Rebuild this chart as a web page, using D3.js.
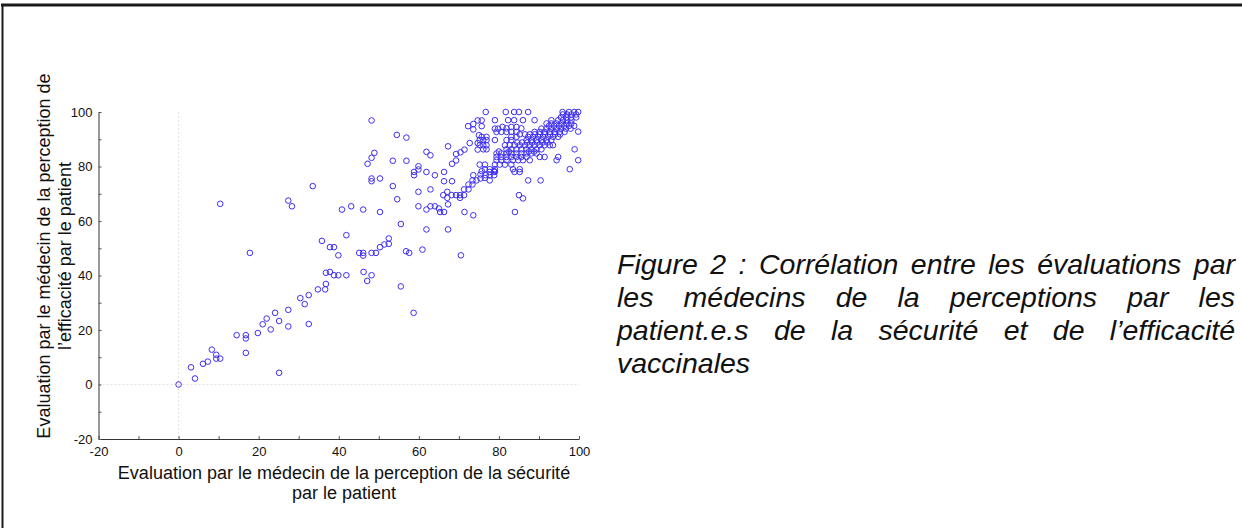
<!DOCTYPE html>
<html>
<head>
<meta charset="utf-8">
<script src="https://cdn.jsdelivr.net/npm/d3@7"></script>
<style>
  body { margin: 0; background: #fff; }
  svg { display: block; }
  text { font-family: "Liberation Sans", Arial, sans-serif; }
</style>
</head>
<body>
<div id="canvas"></div>
<script>
// [sécurité, efficacité]
var pointsBas = [
  [0,0],[3.1,6.3],[4.1,2.2],[6.1,7.6],[7.3,8.4],[8.3,12.8],[9.4,10.9],[9.4,9.5],[10.4,9.5],
  [14.5,18.1],[16.8,18.1],[16.8,16.9],[16.8,11.6],[19.8,18.9],[21,22.1],[22,24.2],[23,20.2],
  [24.1,26.3],[25.1,23.3],[25.1,4.3],[27.4,27.4],[27.4,21.3],[31.5,29.5],[32.5,22.2],
  [30.4,31.7],[32.5,32.8],[34.8,34.9],[36.6,34.9],[36.8,36.9],[36.8,41],[37.8,41.3],[38.8,40.1],
  [39.9,40.1],[41.9,40.1],[46.2,41.3],[47.1,38],[48.2,40.1],[55.5,36],[58.7,26.3]
];
var pointsMilieu = [
  [10.4,66.3],[17.8,48.3],[27.4,67.5],[28.3,65.4],[33.5,72.8],[40.8,64.2],[43.1,65.4],[46.1,64.2],
  [50.3,63.3],[41.9,54.8],[35.8,52.7],[37.8,50.4],[38.8,50.4],[39.9,47.4],[45.1,48.3],[46.1,48.3],
  [46.1,47.3],[48.2,48.3],[49.3,48.3],[50.3,50.4],[51.4,51.4],[52.5,51.6],[52.5,53.6],[56.8,48.9],
  [57.6,48.3],[60.9,49.5],[70.5,47.4],[55.5,58.9],[61.9,56.9],[67.3,56.9],
  [47.2,81],[48.2,83.2],[48.9,85],[48.2,96.9],[54.5,91.6],[56.9,90.6],[53.5,82.1],[56.9,82.1],
  [48.2,75.6],[48.2,74.6],[50.3,75.6],[53.5,72.8],[54.6,68],[59.9,70.7],[62.9,71.6],
  [59.9,80.1],[59.9,78.9],[58.8,78],[58.8,76.8],[61.9,78],[64,76.8],[66.3,78],[66.3,74.6],[68.3,74.6],
  [61.9,85.4],[62.9,84.1],[67.3,87.4],[68.3,81],[69.3,82.2],[69.3,84.6],[70.4,85.2],[71.4,86.2],[72.7,88.6],
  [59.9,65.4],[61.9,64.2],[62.9,65.4],[64,65.4],[65,64.6],[65.3,63.3],[66.3,63.3],[71.4,63.3],[73.6,62.1],
  [66.1,69.5],[67.1,70.7],[67.1,68.5],[67.3,66.1],[68.2,69.5],[69.3,69.5],[70.3,69.5],[70.3,68.5],
  [71.3,69.5],[71.3,71.6],[72.4,73.4],[72.4,71.6],[73.4,74.9],[73.4,73.4],[74.4,74.9],
  [84,63.3],[85,69.5],[86,68.3],[87.3,74.9],[90.4,74.9]
];
var pointsHaut = [
  [72.3,94.8],[73.6,95.6],[73.6,93.6],[74.7,96.9],[75.7,96.9],[75.7,94.8],[75,91.5],[74.7,88.6],[74.7,86.2],
  [76.7,100],[81.7,100],[83.8,100],[85,100],[87.3,100],
  [73.6,76.8],[75.4,75.6],[75.4,77.1],[76.5,75.8],[77.7,74.9],[75.7,78.3],[76.7,76.8],[77.7,76.8],
  [78.8,76.8],[78.8,78.3],
  [95.9,100],[97.5,100],[98.8,100],[99.8,100],
  [96,99.1],[97,99.1],[98.1,99.1],[99.3,99.1],
  [95.5,98],[96.8,98],[98,98],[99.3,98],
  [79,97],[82.3,97],[83.8,97],[86,97],[88.9,97],[93.1,97],[94.8,97],[96,97],[97,97],[98.1,97],
  [91.9,95.8],[93.1,95.8],[94.4,95.8],[95.6,95.8],[96.9,95.8],[98.1,95.8],
  [92.5,94.9],[93.8,94.9],[95,94.9],[96.3,94.9],[97.5,94.9],[98.8,94.9],
  [79,93.9],[79.8,93.9],[80.9,94.5],[81.9,94],[83.1,94.5],[84.4,94.5],[85.6,94],[90.6,93.9],[91.9,93.9],
  [93.1,93.9],[94.4,93.9],[95.6,93.9],[96.7,93.9],[97.9,93.9],[99.8,92.8],
  [79.4,92.7],[80.6,92.7],[81.9,92.7],[83.1,92.7],[84.4,92.7],[88.9,92.7],[90.2,92.7],[91.4,92.7],
  [92.7,92.7],[93.9,92.7],[95.2,92.7],[96.4,92.7],
  [85.2,91.8],[86.5,91.8],[87.7,91.8],[89,91.8],[90.2,91.8],[91.5,91.8],[92.8,91.8],[94,91.8],[95.3,91.8],
  [75.7,90.9],[76.9,90.9],[83.1,90.9],[84.4,90.9],[87.3,90.9],[88.5,90.9],[89.8,90.9],[91,90.9],
  [92.3,90.9],[93.5,90.9],[94.8,90.9],
  [75.2,89.7],[76.1,89.7],[76.9,89.7],[79,89.7],[81.9,89.7],[83.1,89.7],[86.9,89.7],[88.1,89.7],
  [89.4,89.7],[90.6,89.7],[91.9,89.7],[93.1,89.7],
  [84.6,88.8],[85.8,88.8],[87.1,88.8],[88.3,88.8],[89.6,88.8],[90.9,88.8],[92.1,88.8],
  [75.2,87.8],[76.1,87.8],[76.9,87.8],[81.5,87.8],[82.7,87.8],[83.9,87.8],[85.2,87.8],[86.5,87.8],
  [87.7,87.8],[88.9,87.8],[90.2,87.8],[91.4,87.8],[92.7,87.8],[93.5,87.8],
  [76.1,86.3],[76.9,86.3],[81.9,86.3],[83.1,86.3],[84.4,86.3],[85.6,86.3],[86.9,86.3],[88.1,86.3],
  [89.4,86.3],[90.6,86.3],[98.9,86.3],
  [80,85.5],[82.5,85.5],[87.5,85.5],[88.8,85.5],
  [79.4,84.8],[80.6,84.8],[81.9,84.8],[83.1,84.8],[84.4,84.8],[85.6,84.8],[86.9,84.8],[88.1,84.8],[89.4,84.8],
  [79.4,83.5],[80.6,83.5],[81.9,83.5],[83.1,83.5],[84.4,83.5],[85.6,83.5],[86.9,83.5],[90.2,83.5],
  [91.4,83.5],[94.8,83.5],
  [79.4,82.3],[80.6,82.3],[81.9,82.3],[83.5,82.3],[84.8,82.3],[86,82.3],[87.7,82.3],[94.4,82.3],[99.8,82.3],
  [75.2,80.7],[76.5,80.7],[79,80.7],[80.2,80.7],[81.5,80.7],[83.1,80.7],
  [76.5,79],[77.7,79],[79,79],[83.5,79],[85.2,79],[97.7,79],
  [77.7,78],[79,78],[83.9,78],[85.2,78]
];

var xTicks = [-20, 0, 20, 40, 60, 80, 100];
var yTicks = [-20, 0, 20, 40, 60, 80, 100];
var minorTicks = [-20, -10, 0, 10, 20, 30, 40, 50, 60, 70, 80, 90, 100];

var xTitle = ["Evaluation par le médecin de la perception de la sécurité", "par le patient"];
var yTitle = ["Evaluation par le médecin de la perception de", "l\u2019efficacité par le patient"];
var caption = [
  "Figure 2 : Corrélation entre les évaluations par",
  "les médecins de la perceptions par les",
  "patient.e.s de la sécurité et de l\u2019efficacité",
  "vaccinales"
];

var W = 1242, H = 528;
var svg = d3.select('#canvas').append('svg')
    .attr('width', W)
    .attr('height', H);

// frame of the page cell
svg.append('line').attr('x1', 1).attr('x2', W).attr('y1', 5).attr('y2', 5)
    .attr('stroke', '#1a1a1a').attr('stroke-width', 3);
svg.append('line').attr('x1', 2.5).attr('x2', 2.5).attr('y1', 4).attr('y2', H)
    .attr('stroke', '#1a1a1a').attr('stroke-width', 2);

var x = d3.scaleLinear().domain([-20, 100]).range([98.5, 579]);
var y = d3.scaleLinear().domain([-20, 100]).range([439, 112]);

var plot = svg.append('g').attr('class', 'plot');

// dotted zero lines
plot.append('line')
    .attr('x1', x(0)).attr('x2', x(0)).attr('y1', y(100)).attr('y2', y(-20))
    .attr('stroke', '#e2e2e2').attr('stroke-dasharray', '2,2');
plot.append('line')
    .attr('x1', x(-20)).attr('x2', x(100)).attr('y1', y(0)).attr('y2', y(0))
    .attr('stroke', '#e2e2e2').attr('stroke-dasharray', '2,2');

var xAxis = plot.append('g')
    .attr('transform', 'translate(0,' + y(-20) + ')')
    .call(d3.axisBottom(x).tickValues(minorTicks).tickSizeInner(-3).tickSizeOuter(0)
        .tickPadding(8).tickFormat(function(d){ return xTicks.indexOf(d) != -1 ? d : ''; }));
var yAxis = plot.append('g')
    .attr('transform', 'translate(' + x(-20) + ',0)')
    .call(d3.axisLeft(y).tickValues(minorTicks).tickSizeInner(-3).tickSizeOuter(0)
        .tickPadding(6).tickFormat(function(d){ return yTicks.indexOf(d) != -1 ? d : ''; }));

[xAxis, yAxis].forEach(function(a){
    a.select('.domain').attr('stroke', '#333');
    a.selectAll('.tick line').attr('stroke', '#555');
    a.selectAll('.tick text')
        .attr('fill', '#111')
        .style('font-size', '13px')
        .style('font-family', '"Liberation Sans", Arial, sans-serif');
});

var allPoints = pointsBas.concat(pointsMilieu, pointsHaut);

plot.selectAll('.pt')
    .data(allPoints)
    .enter()
    .append('circle').attr('class', 'pt')
    .attr('cx', function(d){ return x(d[0]); })
    .attr('cy', function(d){ return y(d[1]); })
    .attr('r', 2.8)
    .attr('fill', 'none')
    .attr('stroke', '#3d2ef5')
    .attr('stroke-width', 1);

// axis titles
svg.append('g').selectAll('text')
    .data(xTitle).enter().append('text')
    .attr('x', 344)
    .attr('y', function(d, i){ return 479 + i * 20; })
    .attr('text-anchor', 'middle')
    .style('font-size', '18px')
    .attr('fill', '#111')
    .text(function(d){ return d; });

svg.append('g')
    .attr('transform', 'translate(0,256) rotate(-90)')
    .selectAll('text')
    .data(yTitle).enter().append('text')
    .attr('x', 0)
    .attr('y', function(d, i){ return 49.5 + i * 21.5; })
    .attr('text-anchor', 'middle')
    .style('font-size', '18px')
    .attr('fill', '#111')
    .text(function(d){ return d; });

// justified caption
var capX0 = 617, capX1 = 1235, capY = 274, capStep = 33, capSize = 28.5;
var cap = svg.append('g')
    .attr('font-size', capSize)
    .attr('font-style', 'italic')
    .attr('fill', '#111');

caption.forEach(function(line, i){
    var words = line.split(' ');
    var widths = words.map(function(w){
        var t = cap.append('text').text(w);
        var l = t.node().getComputedTextLength();
        t.remove();
        return l;
    });
    var total = d3.sum(widths);
    var last = i == caption.length - 1;
    var gap = last ? capSize * 0.28 : (capX1 - capX0 - total) / (words.length - 1);
    var cx = capX0;
    words.forEach(function(w, j){
        cap.append('text')
            .attr('x', cx)
            .attr('y', capY + i * capStep)
            .text(w);
        cx += widths[j] + gap;
    });
});
</script>
</body>
</html>
